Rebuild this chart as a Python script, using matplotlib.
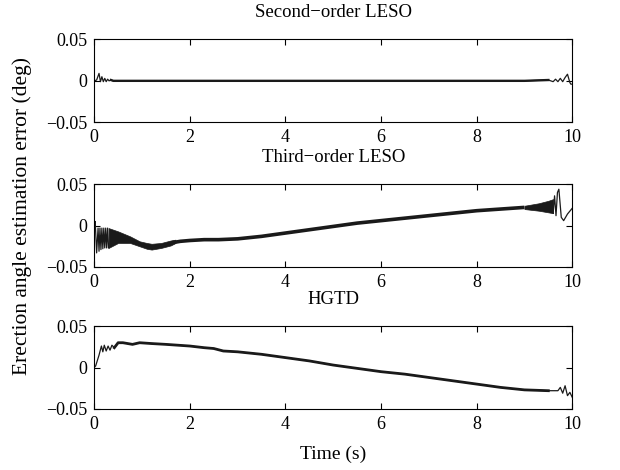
import numpy as np
import matplotlib
matplotlib.use("Agg")
import matplotlib.pyplot as plt

plt.rcParams['font.family'] = ['Liberation Serif', 'DejaVu Serif']

# Second-order LESO
t1 = [0, 0.05, 0.1, 0.13, 0.16, 0.19, 0.22, 0.25, 0.28, 0.31, 0.35, 0.4, 1, 2, 3, 4, 5, 6,
      7, 8, 9, 9.5, 9.6, 9.65, 9.7, 9.75, 9.8, 9.85, 9.9, 9.95, 9.97, 10]
e1 = [0, 0.001, 0.009, -0.001, 0.005, -0.001, 0.003, -0.001, 0.002, 0, 0.001, 0, 0, 0, 0, 0, 0, 0,
      0, 0, 0, 0.001, -0.001, 0.002, -0.001, 0.003, -0.001, 0.004, 0.008, -0.002, -0.004, -0.004]

# Third-order LESO
t2 = [0, 0.02, 0.05, 0.08, 0.1, 0.12, 0.14, 0.16, 0.18, 0.2, 0.22, 0.24, 0.26, 0.28, 0.3,
      1.6, 1.8, 2.0, 2.3, 2.6, 3.0, 3.5, 4.0, 4.5, 5.0, 5.5, 6.0, 6.5, 7.0, 7.5, 8.0, 8.5, 9.0,
      9.6, 9.63, 9.66, 9.69, 9.72, 9.77, 9.82, 9.9, 10]
e2 = [0, 0.005, -0.033, -0.003, -0.031, -0.003, -0.029, -0.003, -0.028, -0.003, -0.027, -0.003,
      -0.027, -0.003, -0.027,
      -0.021, -0.019, -0.018, -0.017, -0.017, -0.016, -0.013, -0.009, -0.005, -0.001, 0.003, 0.006,
      0.009, 0.012, 0.015, 0.018, 0.020, 0.022,
      0.015, 0.036, 0.012, 0.040, 0.044, 0.010, 0.006, 0.014, 0.021]
n_start, n_mid = 15, 33
# dense oscillation bands
band_t_a = [0.3, 0.5, 0.75, 0.95, 1.1, 1.2, 1.4, 1.6, 1.7]
band_hi_a = [-0.003, -0.007, -0.013, -0.019, -0.021, -0.022, -0.021, -0.018, -0.017]
band_lo_a = [-0.027, -0.021, -0.021, -0.025, -0.028, -0.029, -0.027, -0.024, -0.021]
band_t_b = [9.0, 9.3, 9.5, 9.6]
band_hi_b = [0.024, 0.027, 0.030, 0.032]
band_lo_b = [0.020, 0.018, 0.016, 0.015]

# HGTD
t3 = [0, 0.03, 0.1, 0.15, 0.18, 0.21, 0.25, 0.29, 0.33, 0.37, 0.42, 0.5, 0.6, 0.8, 0.95, 1.2, 1.5,
      2.0, 2.3, 2.5, 2.7, 3.0, 3.5, 4.0, 4.5, 4.6, 4.7, 5.0, 5.5, 6.0, 6.5, 7.0, 7.5, 8.0, 8.5,
      9.0, 9.5, 9.7, 9.75, 9.8, 9.85, 9.9, 9.95, 10]
e3 = [0, 0.002, 0.015, 0.026, 0.019, 0.027, 0.020, 0.026, 0.021, 0.027, 0.024, 0.030, 0.030, 0.028,
      0.030, 0.029, 0.028, 0.026, 0.024, 0.023, 0.020, 0.019, 0.016, 0.012, 0.008, 0.007, 0.006,
      0.003, -0.001, -0.005, -0.008, -0.012, -0.016, -0.020, -0.024, -0.027, -0.028, -0.028,
      -0.024, -0.031, -0.022, -0.034, -0.030, -0.036]

titles = ['Second\u2212order LESO', 'Third\u2212order LESO', 'HGTD']
xticks = [0, 2, 4, 6, 8, 10]
yticks = [-0.05, 0, 0.05]
ytick_labels = ['\u22120.05', '0', '0.05']

col = '#1a1a1a'
fig = plt.figure(figsize=(6.2, 4.7), dpi=100)
left, width, height = 0.152, 0.771, 0.176
bottoms = [0.740, 0.432, 0.130]
axes = [fig.add_axes([left, b, width, height]) for b in bottoms]

ax = axes[0]
t1a, e1a = np.array(t1), np.array(e1)
ax.plot(t1a, e1a, color=col, lw=0.9)
m = (t1a >= 0.35) & (t1a <= 9.5)
ax.plot(t1a[m], e1a[m], color=col, lw=1.7)

ax = axes[1]
t2a, e2a = np.array(t2), np.array(e2)
ax.plot(t2a[:n_start], e2a[:n_start], color=col, lw=0.9)
ax.fill_between(band_t_a, band_lo_a, band_hi_a, color=col, lw=0.5)
ax.plot(t2a[n_start:n_mid], e2a[n_start:n_mid], color=col, lw=2.6, solid_capstyle='butt')
ax.fill_between(band_t_b, band_lo_b, band_hi_b, color=col, lw=0.5)
ax.plot(t2a[n_mid:], e2a[n_mid:], color=col, lw=0.9)

ax = axes[2]
t3a, e3a = np.array(t3), np.array(e3)
ax.plot(t3a, e3a, color=col, lw=0.9)
m = (t3a >= 0.42) & (t3a <= 9.5)
ax.plot(t3a[m], e3a[m], color=col, lw=2.0)

for ax, title in zip(axes, titles):
    ax.set_xlim(0, 10)
    ax.set_ylim(-0.05, 0.05)
    ax.set_xticks(xticks)
    ax.set_yticks(yticks)
    ax.set_yticklabels(ytick_labels)
    ax.tick_params(direction='in', top=True, right=True, length=4, width=0.8, labelsize=13)
    ax.tick_params(axis='x', pad=5)
    ax.tick_params(axis='y', pad=5)
    for s in ax.spines.values():
        s.set_linewidth(0.8)
    ax.set_title(title, fontsize=13.5, pad=16)

axes[2].set_xlabel('Time (s)', fontsize=14, labelpad=9)
fig.text(0.035, 0.54, 'Erection angle estimation error (deg)', rotation=90,
         va='center', ha='center', fontsize=15.5)

fig.savefig('out.png', dpi=100)
